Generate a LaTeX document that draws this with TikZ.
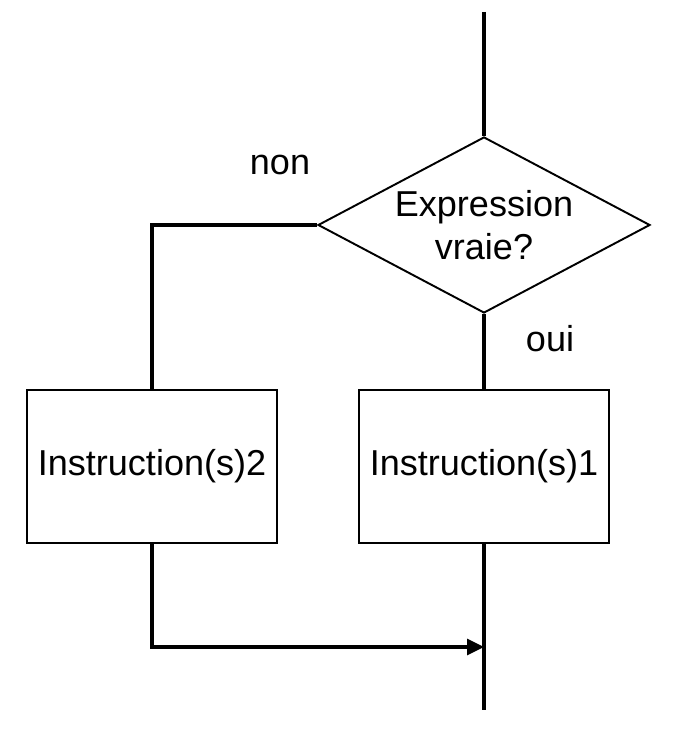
\documentclass[tikz,border=0pt]{standalone}
\usepackage{fontspec}
\setmainfont{Liberation Sans}
\usetikzlibrary{shapes.geometric,arrows.meta}
\tikzset{
  testbox/.style={draw,line width=1.1pt,diamond,aspect=1.886,minimum width=6.64cm,minimum height=3.52cm,inner sep=0pt,align=center,font=\fontsize{20.5}{24.5}\selectfont},
  instrbox/.style={draw,line width=1.1pt,rectangle,minimum width=5cm,minimum height=3.06cm,font=\fontsize{20.5}{24}\selectfont},
  flow/.style={line width=1.8pt},
  lbl/.style={font=\fontsize{20.5}{24}\selectfont}
}
\begin{document}
\begin{tikzpicture}[x=1cm,y=1cm]
\useasboundingbox (0,0) rectangle (13.58,14.62);
\coordinate (start) at (9.68,14.38);
\node[testbox] (test) at (9.68,10.12) {Expression\\vraie?};
\draw[flow] (start) -- (test.north);
\node[instrbox] (instr1) at (9.68,5.29) {Instruction(s)1};
\node[instrbox] (instr2) at (3.04,5.29) {Instruction(s)2};
\draw[flow] (test.south) -- (instr1.north);
\draw[flow] (test.west) -| (instr2.north);
\node[lbl] (non) at (5.6,11.32) {non};
\node[lbl] (oui) at (11.0,7.84) {oui};
\coordinate (join) at (9.68,1.68);
\coordinate (stop) at (9.68,0.42);
\draw[flow] (instr1.south) -- (stop);
\draw[flow,-{Triangle[length=0.34cm,width=0.32cm]}] (instr2.south) |- (join);
\end{tikzpicture}
\end{document}
